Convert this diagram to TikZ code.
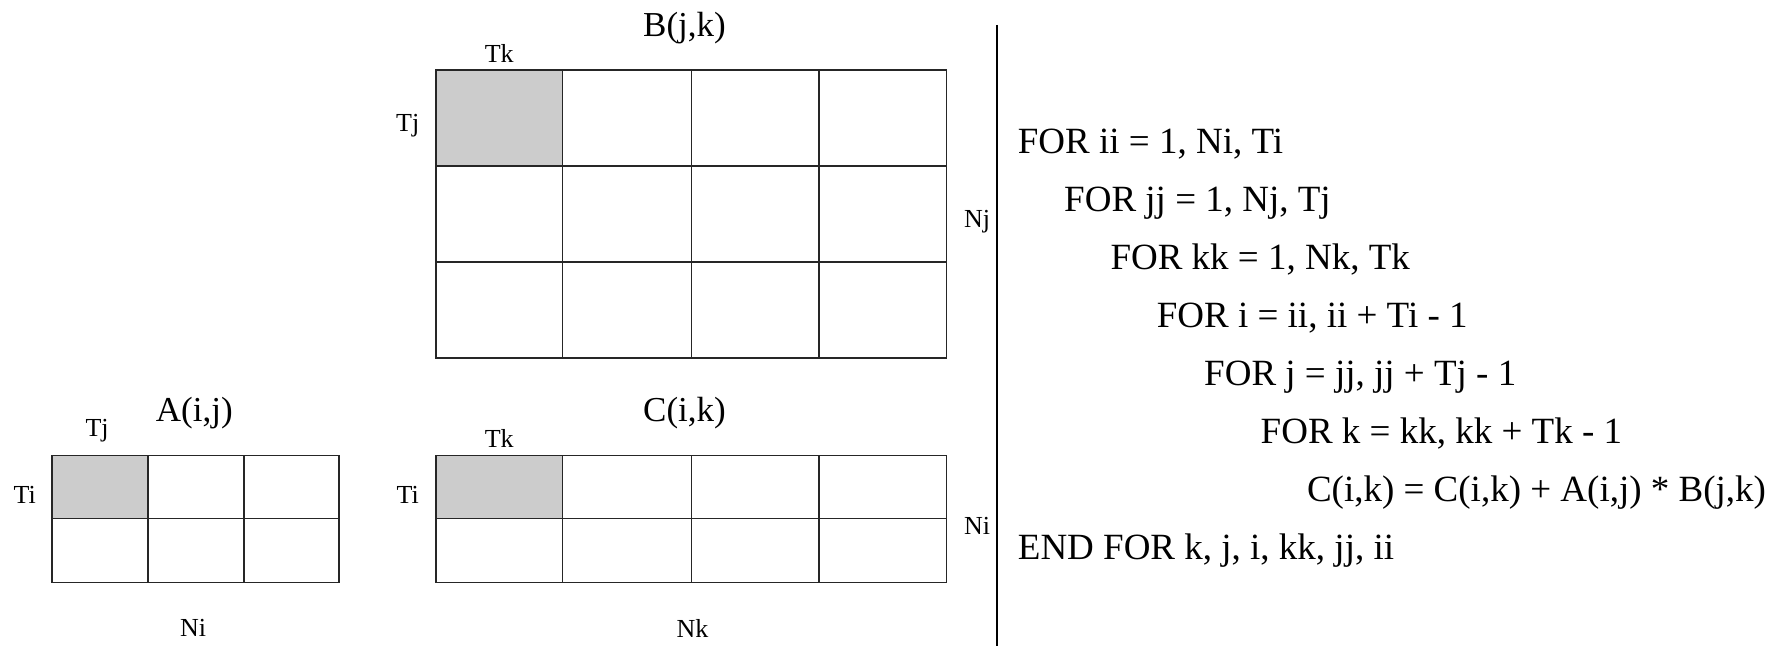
\documentclass[tikz,border=0pt]{standalone}
\usepackage{fontspec}
\setmainfont{Liberation Serif}
\begin{document}
\begin{tikzpicture}[x=1pt,y=-1pt,
  gridline/.style={draw=black!85, line width=1.3pt},
  tile/.style={fill=black!20},
  lbl/.style={font=\fontsize{26}{26}\selectfont, inner sep=0pt},
  title/.style={font=\fontsize{35}{35}\selectfont, inner sep=0pt},
  code/.style={font=\fontsize{37}{37}\selectfont, anchor=base west, inner sep=0pt}]
\useasboundingbox (0,0) rectangle (1771,646);

% ---- matrix B(j,k): 3 x 4 blocks
\fill[tile] (436,70) rectangle (562.5,166);
\draw[gridline] (436,70) rectangle (946.5,358);
\foreach \x in {562.5,691.3,818.9} \draw[gridline] (\x,70) -- (\x,358);
\foreach \y in {166,262} \draw[gridline] (436,\y) -- (946.5,\y);
\node[title] (Bname) at (684.5,28) {B(j,k)};
\node[lbl] (BTk) at (499.2,53) {Tk};
\node[lbl] (BTj) at (407.7,125.4) {Tj};
\node[lbl] (BNj) at (977,221.4) {Nj};

% ---- matrix A(i,j): 2 x 3 blocks
\fill[tile] (52,455.2) rectangle (148,518.4);
\draw[gridline] (52,455.2) rectangle (338.9,582.8);
\foreach \x in {148,244} \draw[gridline] (\x,455.2) -- (\x,582.8);
\draw[gridline] (52,518.4) -- (338.9,518.4);
\node[title] (Aname) at (194.3,413.4) {A(i,j)};
\node[lbl] (ATj) at (97.1,430.3) {Tj};
\node[lbl] (ATi) at (24.8,494.7) {Ti};
\node[lbl] (ANi) at (193.1,628) {Ni};

% ---- matrix C(i,k): 2 x 4 blocks
\fill[tile] (436,455.2) rectangle (562.5,518.4);
\draw[gridline] (436,455.2) rectangle (946.5,582.8);
\foreach \x in {562.5,691.3,818.9} \draw[gridline] (\x,455.2) -- (\x,582.8);
\draw[gridline] (436,518.4) -- (946.5,518.4);
\node[title] (Cname) at (684.5,413.4) {C(i,k)};
\node[lbl] (CTk) at (499.2,438.2) {Tk};
\node[lbl] (CTi) at (407.7,494.7) {Ti};
\node[lbl] (CNi) at (977,526.3) {Ni};
\node[lbl] (CNk) at (692.4,628) {Nk};

% ---- separator
\draw[line width=2pt] (997.4,24.8) -- (997.4,646);

% ---- tiled loop nest
\node[code] (L1) at (1017.7,153.3) {FOR ii = 1, Ni, Ti};
\node[code] (L2) at (1064,211) {FOR jj = 1, Nj, Tj};
\node[code] (L3) at (1110.3,269) {FOR kk = 1, Nk, Tk};
\node[code] (L4) at (1156.6,327) {FOR i = ii, ii + Ti - 1};
\node[code] (L5) at (1204,385) {FOR j = jj, jj + Tj - 1};
\node[code] (L6) at (1260.5,443) {FOR k = kk, kk + Tk - 1};
\node[code] (L7) at (1306.8,501.5) {C(i,k) = C(i,k) + A(i,j) * B(j,k)};
\node[code] (L8) at (1017.7,559) {END FOR k, j, i, kk, jj, ii};
\end{tikzpicture}
\end{document}
